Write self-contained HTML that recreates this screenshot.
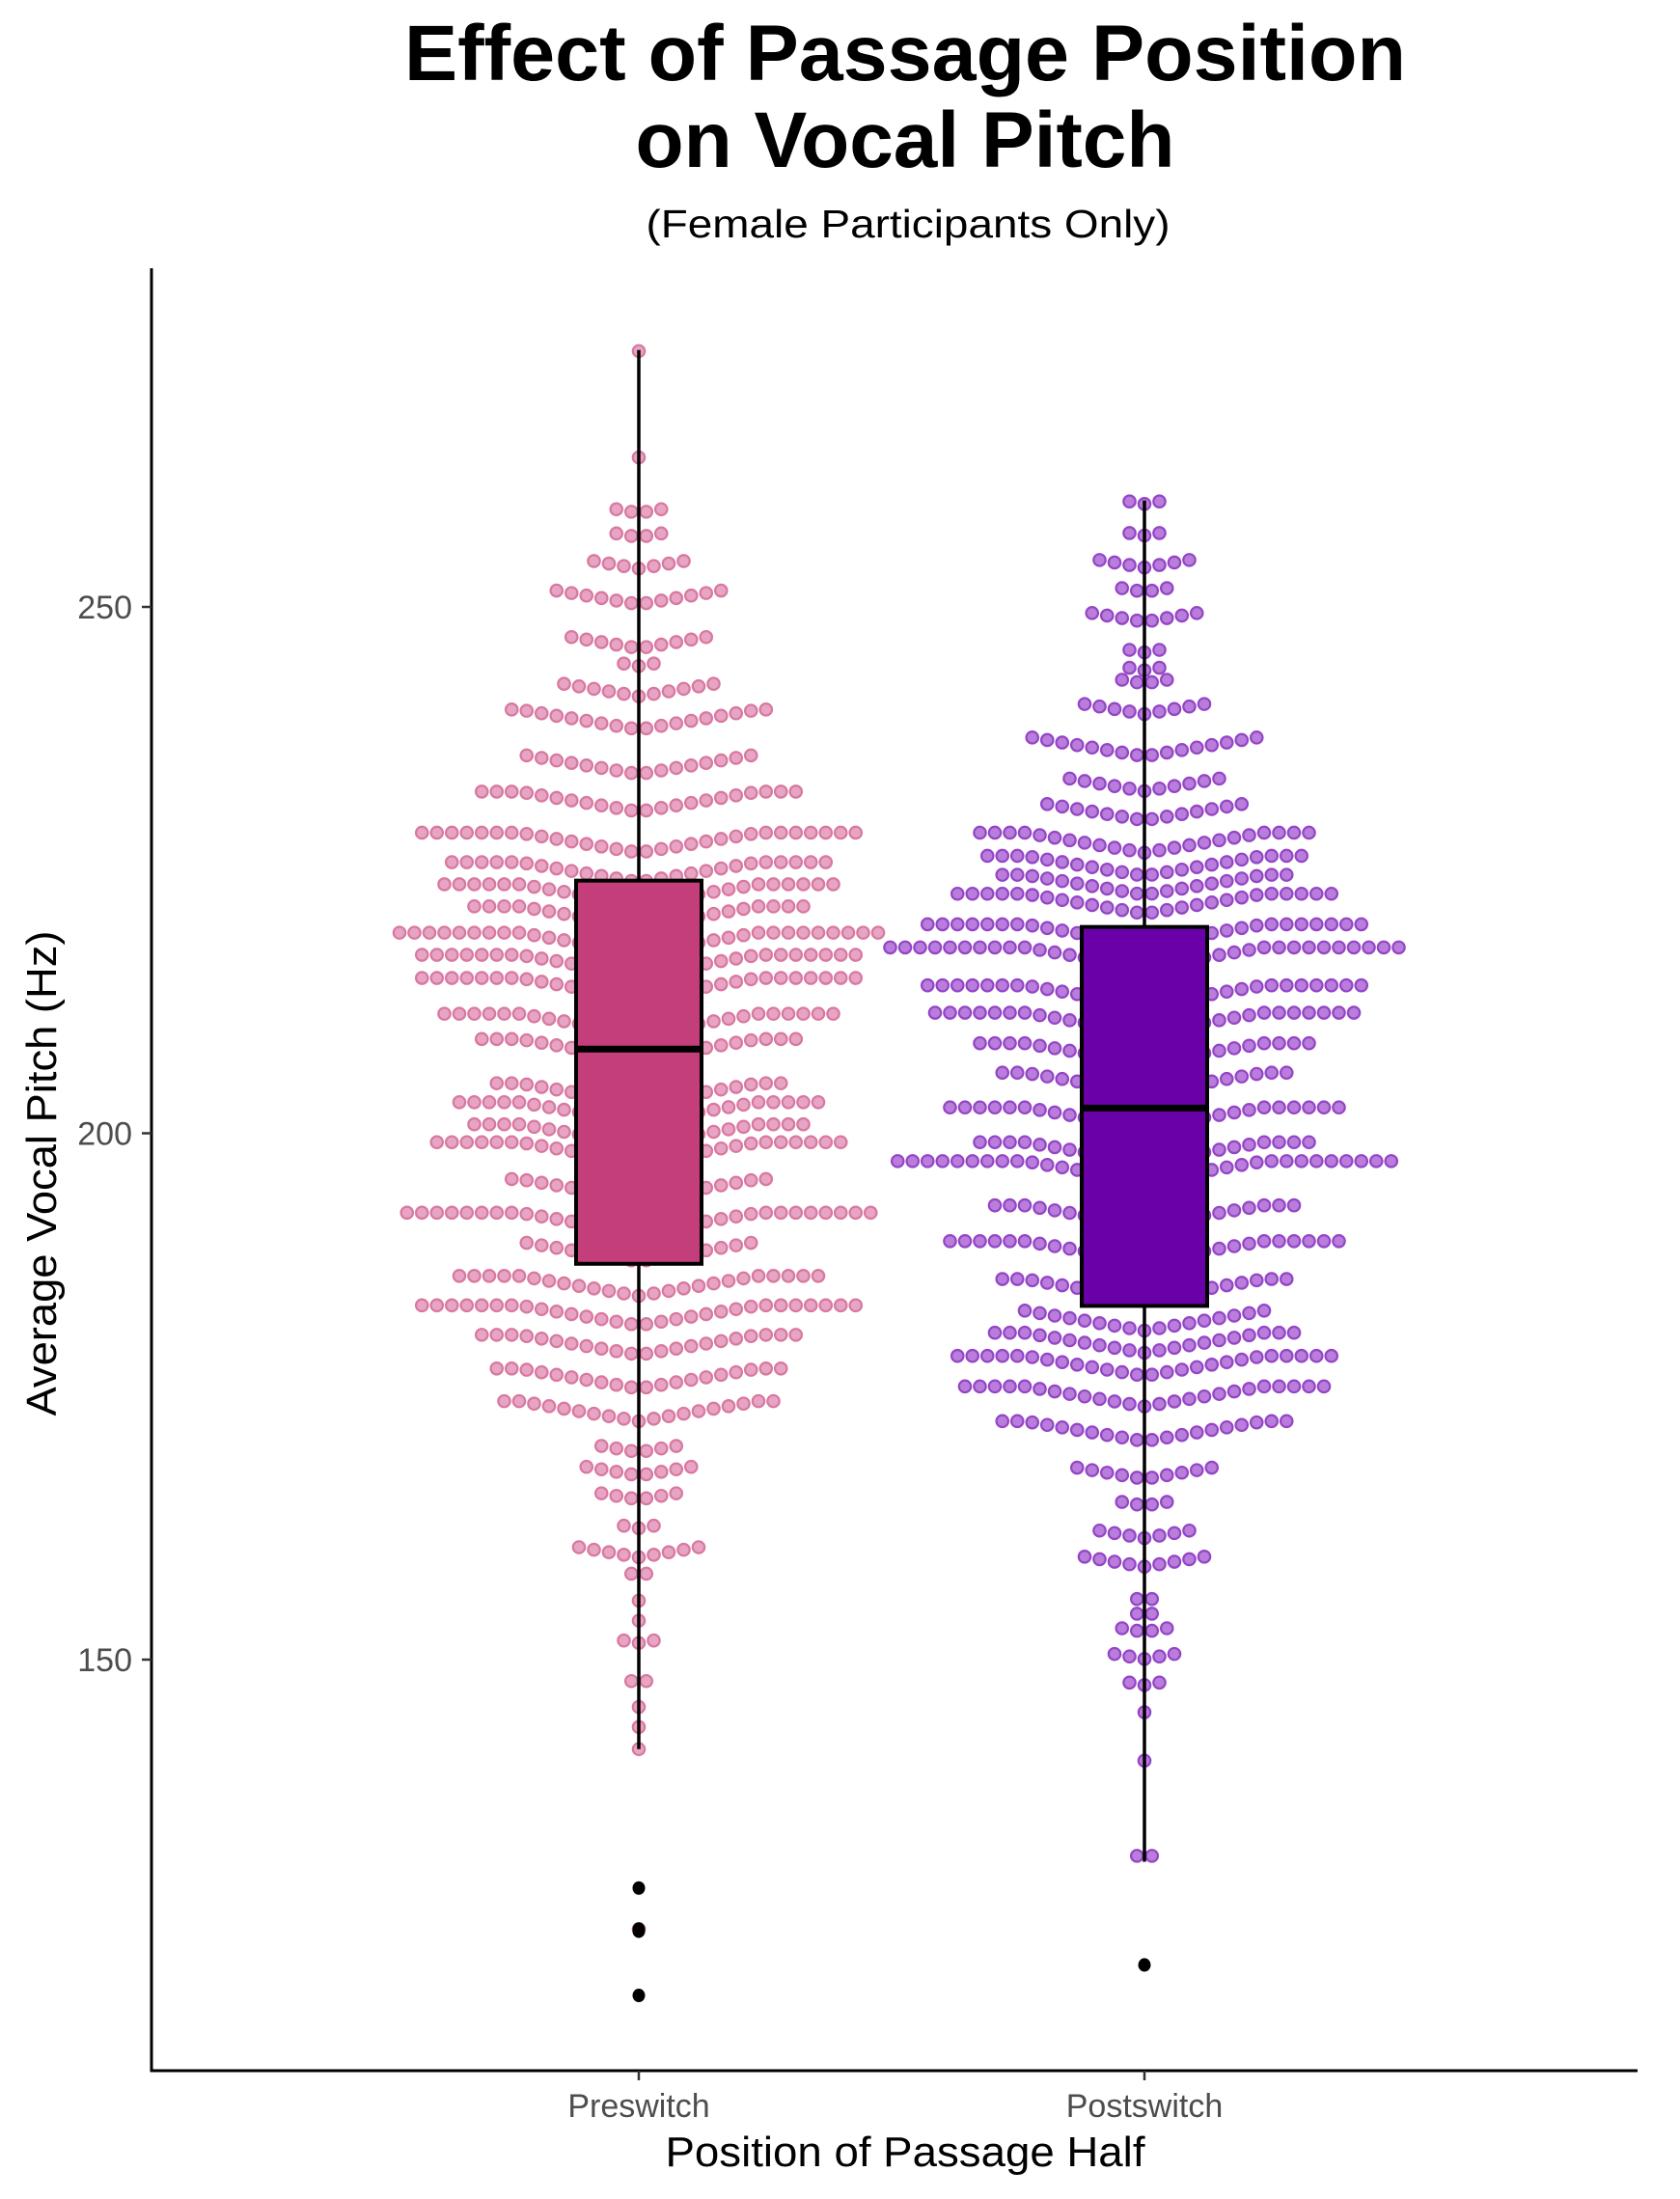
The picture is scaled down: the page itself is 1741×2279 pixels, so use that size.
<!DOCTYPE html>
<html><head><meta charset="utf-8"><style>
html,body{margin:0;padding:0;background:#fff;}
svg{display:block;font-family:"Liberation Sans",Arial,sans-serif;}
</style></head><body>
<svg id="chart" width="1741" height="2279" viewBox="0 0 1741 2279" xmlns="http://www.w3.org/2000/svg">
<rect width="1741" height="2279" fill="#fff"/>
<text x="938" y="83" text-anchor="middle" font-size="82" font-weight="bold" textLength="1038" lengthAdjust="spacingAndGlyphs">Effect of Passage Position</text>
<text x="938" y="173" text-anchor="middle" font-size="82" font-weight="bold">on Vocal Pitch</text>
<text x="941" y="246" text-anchor="middle" font-size="41" textLength="543" lengthAdjust="spacingAndGlyphs">(Female Participants Only)</text>
<g id="dots"></g>
<g id="boxes"></g>
<g id="axes"></g>
<text transform="translate(58,1216) rotate(-90)" text-anchor="middle" font-size="44" textLength="503" lengthAdjust="spacingAndGlyphs">Average Vocal Pitch (Hz)</text>
<text x="938" y="2245" text-anchor="middle" font-size="44" textLength="497" lengthAdjust="spacingAndGlyphs">Position of Passage Half</text>
</svg>
<script>
const categories = ["Preswitch", "Postswitch"];
const yTicks = [150, 200, 250];
const preRowValues = [274.3,264.2,259.1,256.8,254.0,250.9,246.6,244.5,242.1,239.3,235.0,231.5,227.6,224.8,222.7,220.6,218.1,216.0,213.8,210.4,208.0,203.8,202.0,199.9,198.2,194.7,191.5,188.7,185.5,182.7,179.9,176.7,173.6,170.0,167.9,165.5,162.6,160.2,158.1,155.6,153.7,151.7,147.9,145.5,143.6,141.5,124.4];
const preRowCounts = [1,1,4,4,7,12,10,3,11,18,16,22,30,26,27,23,33,30,30,27,22,20,25,23,28,18,32,16,25,30,22,20,19,6,8,6,3,9,2,1,1,3,2,1,1,1,1];
const postRowValues = [259.9,256.9,254.1,251.6,249.0,245.8,244.1,242.9,240.3,236.7,233.1,230.5,227.6,225.4,223.6,221.8,218.9,216.7,213.1,210.5,207.6,204.8,201.5,198.2,196.4,192.2,188.8,185.2,182.2,180.1,177.9,175.0,171.7,167.7,164.8,161.9,159.3,155.7,154.3,152.8,150.3,147.7,145.0,140.4,131.3];
const postRowCounts = [3,3,7,4,8,3,3,4,9,16,11,14,23,22,20,26,30,35,30,29,23,20,27,23,34,21,27,20,17,21,26,25,20,10,4,7,9,2,2,4,5,3,1,1,2];
// box stats: [q1, median, q3, whiskerLow, whiskerHigh]
const preBox = [187.6, 208.0, 224.0, 141.5, 274.4];
const postBox = [183.6, 202.4, 219.6, 130.8, 260.1];
const preOutliers = [128.3, 124.4, 124.2, 118.1];
const postOutliers = [121.0];

const NS = "http://www.w3.org/2000/svg";
const xAxisY = 2146, yAxisX = 157;
function yScale(v){ return 1174.5 - (v - 200) * 10.91; }
function xScale(i){ return [662, 1186][i]; }
function mk(tag, attrs, parent){
  const e = document.createElementNS(NS, tag);
  for (const k in attrs) e.setAttribute(k, attrs[k]);
  parent.appendChild(e); return e;
}
const dotsG = document.getElementById('dots');
const boxesG = document.getElementById('boxes');
const axesG = document.getElementById('axes');

function drawSwarm(ci, vals, counts, fill, stroke){
  const cx = xScale(ci);
  for (let r = 0; r < vals.length; r++){
    const n = counts[r];
    const half = (n - 1) / 2;
    for (let k = 0; k < n; k++){
      const off = (k - half) * 15.5;
      const steps = Math.abs(k - half);
      const rise = Math.min(steps, 8) * 2.6;
      const c = mk('circle', {cx: cx + off, cy: yScale(vals[r]) + Math.min(half, 8) * 1.3 - rise, r: 6.2, fill: fill, stroke: stroke, 'stroke-width': 2.2}, dotsG);
      
      
    }
  }
}
drawSwarm(0, preRowValues, preRowCounts, '#e7a4c4', '#d8789f');
drawSwarm(1, postRowValues, postRowCounts, '#b97ddb', '#9445c6');

function drawBox(ci, s, fill, outs){
  const cx = xScale(ci), hw = 65;
  const w1 = mk('line', {x1: cx, x2: cx, y1: yScale(s[4]), y2: yScale(s[3]), stroke: '#000', 'stroke-width': 3.5}, boxesG);
  
  
  const b = mk('rect', {x: cx - hw, y: yScale(s[2]), width: hw * 2, height: yScale(s[0]) - yScale(s[2]), fill: fill, stroke: '#000', 'stroke-width': 4}, boxesG);
  
  
  const m = mk('line', {x1: cx - hw, x2: cx + hw, y1: yScale(s[1]), y2: yScale(s[1]), stroke: '#000', 'stroke-width': 7}, boxesG);
  
  
  outs.forEach(v => {
    const o = mk('ellipse', {cx: cx, cy: yScale(v), rx: 6.5, ry: 7, fill: '#000'}, boxesG);
    
    
  });
}
drawBox(0, preBox, '#c43e7b', preOutliers);
drawBox(1, postBox, '#6a00a8', postOutliers);

// axes
const ya = mk('line', {x1: yAxisX, x2: yAxisX, y1: 278, y2: xAxisY + 1.5, stroke: '#000', 'stroke-width': 3}, axesG);


const xa = mk('line', {x1: yAxisX - 1.5, x2: 1697, y1: xAxisY, y2: xAxisY, stroke: '#000', 'stroke-width': 3}, axesG);


yTicks.forEach(t => {
  const tk = mk('line', {x1: yAxisX - 10, x2: yAxisX, y1: yScale(t), y2: yScale(t), stroke: '#333', 'stroke-width': 2.5}, axesG);
  
  
  const lb = mk('text', {x: 137, y: yScale(t) + 12, 'text-anchor': 'end', 'font-size': 34, fill: '#4d4d4d'}, axesG);
  lb.textContent = t;
  
  
});
categories.forEach((c, i) => {
  const tk = mk('line', {x1: xScale(i), x2: xScale(i), y1: xAxisY, y2: xAxisY + 10, stroke: '#333', 'stroke-width': 2.5}, axesG);
  
  
  const lb = mk('text', {x: xScale(i), y: 2194, 'text-anchor': 'middle', 'font-size': 34, fill: '#4d4d4d'}, axesG);
  lb.textContent = c;
  
  
});
</script>
</body></html>
